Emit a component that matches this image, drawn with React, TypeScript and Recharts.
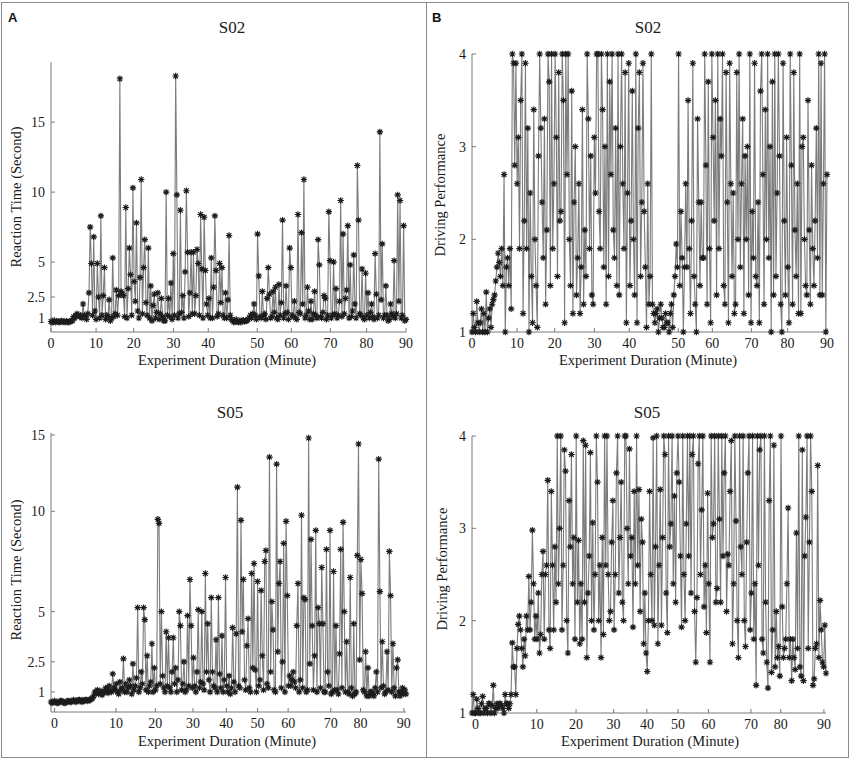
import React from 'react';
import { LineChart, Line, XAxis, YAxis } from 'recharts';

const SERIF = '"Liberation Serif", "Times New Roman", serif';

const MINUTE_LABELS = ['0', '10', '20', '30', '40', '50', '60', '70', '80', '90'];
// where each minute mark falls along the trial sequence (fraction of all trials)
const S02_MINUTE_AT = [0, 0.127, 0.233, 0.345, 0.443, 0.581, 0.677, 0.787, 0.889, 1.0];
const S05_MINUTE_AT = [0.01, 0.183, 0.294, 0.4, 0.494, 0.582, 0.668, 0.788, 0.872, 0.994];

const RT_TICKS_S02 = [1, 2.5, 5, 10, 15];
// in the source figure the "15" label of S05 sits lower than a linear axis would put it
const RT_TICKS_S05 = [1, 2.5, 5, 10, 13.8];
const RT_TICK_LABELS = ['1', '2.5', '5', '10', '15'];
const DP_TICKS = [1, 2, 3, 4];
const DP_TICK_LABELS = ['1', '2', '3', '4'];

// S02 reaction time per trial (s)
const S02_RT = [
  0.75, 0.7, 0.72, 0.8, 0.7, 0.78, 0.75, 0.7, 0.74, 0.8, 0.72, 0.76, 0.7, 0.78, 0.72,
  0.7, 0.75, 0.8, 0.8, 1.1, 1.0, 1.2, 1.3, 1.15, 1.1, 1.2, 1.0, 2.0, 1.2, 1.1,
  0.9, 1.3, 2.8, 7.5, 4.9, 1.2, 6.8, 1.5, 0.9, 4.9, 2.5, 1.0, 8.3, 1.2, 2.6,
  4.6, 0.9, 1.2, 1.1, 2.3, 0.8, 1.0, 5.3, 1.1, 1.3, 3.0, 1.2, 2.6, 18.1, 2.9,
  2.7, 2.6, 1.1, 8.9, 1.0, 3.1, 6.0, 4.1, 1.2, 10.3, 3.6, 2.2, 7.8, 1.5, 1.0,
  3.9, 10.9, 1.3, 4.6, 6.6, 2.1, 1.2, 6.0, 1.0, 3.3, 0.8, 1.9, 2.7, 1.0, 1.4,
  2.8, 0.9, 1.3, 2.4, 1.1, 0.8, 0.8, 10.0, 1.2, 2.4, 1.1, 3.5, 0.9, 5.6, 1.2,
  18.3, 9.8, 1.0, 1.3, 8.7, 1.4, 2.6, 1.0, 4.3, 10.1, 5.7, 1.1, 2.8, 5.7, 1.3,
  5.7, 1.3, 2.6, 5.9, 4.9, 1.2, 8.4, 4.5, 1.0, 8.2, 4.4, 2.0, 1.2, 2.4, 1.0,
  5.3, 1.0, 3.2, 8.3, 4.4, 1.1, 1.3, 4.9, 2.1, 4.6, 1.2, 1.0, 2.8, 1.0, 2.3,
  6.9, 1.2, 0.9, 0.8, 0.7, 0.75, 0.9, 0.75, 0.7, 0.8, 0.7, 0.8, 0.85, 0.75, 0.8,
  0.8, 0.9, 1.0, 1.2, 1.0, 1.3, 2.0, 1.2, 0.9, 7.0, 4.0, 1.1, 1.0, 2.9, 1.2,
  1.3, 0.9, 2.4, 4.6, 2.7, 1.0, 1.1, 2.9, 1.4, 3.2, 1.0, 0.9, 3.4, 1.2, 2.1,
  8.0, 1.0, 1.3, 3.3, 1.4, 0.9, 6.0, 4.6, 1.2, 1.1, 2.2, 1.0, 0.9, 8.4, 1.4,
  1.3, 7.1, 2.0, 10.9, 1.0, 1.2, 3.2, 1.5, 0.9, 2.2, 0.9, 1.3, 2.9, 1.2, 1.0,
  6.6, 4.8, 1.1, 1.0, 1.4, 2.6, 2.4, 0.9, 1.2, 8.6, 5.1, 1.0, 1.2, 5.0, 1.3,
  3.1, 1.0, 1.2, 2.2, 9.4, 1.1, 7.0, 1.3, 2.4, 3.0, 7.6, 1.0, 4.8, 1.1, 1.5,
  5.5, 2.0, 1.0, 11.9, 8.0, 1.3, 1.2, 4.5, 1.0, 0.9, 4.2, 1.2, 2.8, 1.0, 1.4,
  2.0, 1.1, 0.9, 5.6, 2.7, 1.0, 1.2, 14.3, 2.3, 6.3, 1.0, 1.2, 3.3, 1.2, 0.8,
  0.9, 2.0, 1.3, 1.1, 5.1, 1.0, 1.3, 9.8, 2.2, 9.4, 1.0, 1.2, 7.6, 0.8, 0.9,
];

// S02 driving performance per trial
const S02_DP = [
  1.0, 1.2, 1.05, 1.0, 1.33, 1.1, 1.0, 1.1, 1.25, 1.0, 1.2, 1.0, 1.43, 1.0, 1.15,
  1.25, 1.05, 1.3, 1.35, 1.4, 1.55, 1.7, 1.85, 1.75, 1.6, 1.9, 1.5, 2.7, 1.0, 1.7,
  1.8, 1.5, 1.9, 1.25, 4.0, 3.9, 2.8, 3.9, 2.6, 3.1, 1.9, 3.5, 4.0, 1.2, 2.2,
  3.9, 1.9, 3.2, 1.0, 2.5, 1.6, 1.1, 3.4, 2.0, 1.5, 1.05, 2.9, 4.0, 3.2, 2.4,
  1.8, 3.3, 1.3, 2.1, 4.0, 3.7, 1.5, 4.0, 1.9, 2.6, 4.0, 3.1, 1.6, 3.8, 2.2,
  2.3, 4.0, 3.5, 1.1, 4.0, 2.7, 4.0, 2.0, 1.5, 3.6, 1.2, 2.4, 3.0, 1.4, 1.8,
  2.6, 1.2, 1.7, 3.4, 1.3, 2.1, 1.6, 4.0, 3.3, 1.9, 2.9, 1.4, 1.3, 3.1, 2.5,
  4.0, 4.0, 2.3, 1.9, 4.0, 3.4, 1.7, 3.0, 1.3, 4.0, 1.6, 3.7, 2.7, 4.0, 2.1,
  1.8, 3.2, 1.5, 4.0, 1.4, 3.0, 4.0, 2.6, 1.9, 3.8, 1.1, 2.5, 3.9, 1.5, 2.2,
  3.6, 2.0, 1.4, 4.0, 1.1, 3.2, 3.8, 1.6, 2.4, 3.9, 2.3, 1.7, 1.05, 2.6, 1.3,
  1.6, 4.0, 1.3, 1.2, 1.1, 1.2, 1.25, 1.0, 1.15, 1.3, 1.15, 1.05, 1.05, 1.2, 1.1,
  1.1, 1.0, 1.2, 1.3, 1.05, 1.4, 1.6, 1.95, 1.7, 4.0, 1.5, 2.3, 1.8, 1.0, 1.7,
  2.6, 1.7, 3.5, 1.9, 1.2, 2.2, 3.9, 1.6, 1.3, 1.0, 3.3, 2.4, 1.5, 2.4, 1.8,
  1.8, 4.0, 2.8, 1.3, 3.7, 1.9, 1.1, 4.0, 3.1, 2.2, 3.5, 1.4, 4.0, 1.9, 3.3,
  2.9, 4.0, 1.5, 1.3, 3.8, 2.4, 1.1, 3.9, 2.6, 1.6, 2.5, 1.2, 1.3, 3.8, 2.0,
  4.0, 1.7, 2.6, 3.3, 1.2, 2.9, 2.0, 3.0, 1.4, 4.0, 1.1, 2.3, 1.8, 3.9, 1.6,
  1.5, 2.4, 1.1, 3.6, 4.0, 2.7, 1.3, 3.4, 2.0, 4.0, 1.8, 3.0, 1.0, 3.7, 1.4,
  4.0, 1.6, 2.5, 4.0, 2.9, 1.3, 1.0, 3.9, 2.2, 1.4, 3.1, 1.7, 1.1, 4.0, 2.8,
  1.3, 3.8, 2.1, 1.6, 2.6, 1.2, 4.0, 1.2, 3.0, 3.1, 2.0, 1.5, 1.4, 3.5, 2.1,
  1.3, 2.8, 1.9, 1.5, 2.2, 3.2, 1.8, 4.0, 1.4, 3.9, 1.4, 2.6, 4.0, 1.0, 2.7,
];

// S05 reaction time per trial (s)
const S05_RT = [
  0.5, 0.45, 0.5, 0.55, 0.5, 0.45, 0.45, 0.5, 0.55, 0.55, 0.5, 0.45, 0.45, 0.5, 0.55,
  0.55, 0.5, 0.5, 0.55, 0.6, 0.55, 0.5, 0.55, 0.6, 0.6, 0.55, 0.5, 0.6, 0.55, 0.6,
  0.6, 0.55, 0.6, 0.6, 0.65, 0.7, 0.8, 1.0, 0.95, 1.1, 0.9, 1.0, 1.05, 0.85, 0.95,
  1.0, 1.2, 1.1, 0.95, 1.3, 1.05, 1.0, 1.9, 1.2, 1.1, 1.4, 1.0, 0.9, 1.5, 1.1,
  1.2, 2.65, 1.0, 1.4, 1.0, 1.2, 1.6, 1.3, 0.9, 2.4, 1.1, 1.3, 1.7, 5.2, 1.0,
  1.2, 2.0, 1.4, 5.2, 4.6, 1.1, 2.8, 1.0, 1.3, 1.5, 3.4, 1.0, 2.2, 1.1, 1.3,
  9.6, 9.4, 1.4, 5.0, 1.8, 1.2, 1.0, 4.0, 1.3, 3.7, 1.2, 1.0, 2.0, 3.7, 1.4,
  2.2, 1.0, 1.6, 5.0, 4.3, 1.1, 1.4, 2.5, 1.0, 1.1, 4.8, 1.3, 6.6, 4.3, 1.2,
  2.7, 1.3, 1.0, 2.0, 5.1, 1.2, 1.5, 5.0, 1.4, 1.1, 6.9, 2.0, 4.4, 1.6, 1.0,
  5.7, 2.0, 1.3, 1.2, 3.6, 1.0, 5.7, 1.9, 1.2, 3.8, 1.0, 1.6, 6.7, 1.3, 1.0,
  1.8, 0.9, 1.2, 4.2, 1.5, 1.0, 3.9, 11.2, 1.3, 1.2, 9.55, 4.0, 6.6, 1.6, 1.1,
  3.3, 4.65, 1.2, 1.0, 6.9, 2.2, 7.4, 2.1, 1.0, 6.5, 1.3, 1.6, 6.05, 2.8, 1.1,
  7.5, 8.05, 1.4, 1.2, 12.7, 2.0, 5.5, 4.1, 1.1, 1.0, 12.35, 3.0, 6.4, 7.5, 1.2,
  2.5, 8.4, 1.0, 9.5, 5.8, 1.3, 1.8, 1.3, 1.6, 2.0, 1.5, 1.2, 4.3, 6.4, 1.0,
  1.6, 9.8, 1.2, 5.7, 5.6, 1.0, 1.1, 13.65, 2.4, 8.6, 4.3, 1.1, 2.8, 9.05, 1.0,
  5.2, 4.4, 1.2, 7.2, 4.4, 1.0, 1.0, 8.1, 2.0, 1.3, 9.05, 0.9, 1.0, 7.0, 1.1,
  4.3, 1.1, 0.9, 2.9, 8.1, 1.2, 9.45, 5.0, 1.0, 3.5, 1.0, 0.9, 6.7, 1.2, 0.8,
  4.4, 0.9, 1.0, 7.8, 13.35, 2.6, 7.6, 5.9, 1.1, 1.0, 3.0, 0.8, 2.2, 0.8, 1.0,
  1.0, 0.9, 0.8, 1.2, 2.0, 1.0, 12.6, 6.0, 1.2, 3.5, 1.3, 0.9, 1.0, 3.0, 1.1,
  8.0, 5.8, 1.0, 3.4, 1.2, 0.8, 2.2, 2.6, 1.0, 0.8, 1.0, 1.2, 0.9, 1.1, 0.9,
];

// S05 driving performance per trial
const S05_DP = [
  1.0, 1.2, 1.0, 1.0, 1.15, 1.05, 1.0, 1.0, 1.1, 1.18, 1.0, 1.05, 1.05, 1.0, 1.1,
  1.1, 1.0, 1.08, 1.3, 1.0, 1.05, 1.1, 1.05, 1.1, 1.1, 1.08, 1.05, 1.0, 1.2, 1.1,
  1.1, 1.05, 1.1, 1.2, 1.76, 1.5, 1.5, 1.2, 1.7, 1.96, 2.05, 1.9, 1.7, 1.5, 1.8,
  1.62, 2.05, 1.9, 2.48, 1.9, 2.2, 2.98, 2.4, 1.8, 2.05, 1.8, 2.3, 1.65, 1.85, 2.5,
  2.75, 1.8, 2.5, 2.6, 3.52, 1.9, 1.7, 3.4, 2.6, 1.9, 2.8, 2.2, 4.0, 2.4, 3.0,
  4.0, 1.9, 2.6, 3.85, 3.62, 2.0, 1.65, 3.3, 2.8, 3.8, 2.4, 2.9, 1.8, 4.0, 2.2,
  2.87, 1.75, 2.4, 1.8, 3.95, 2.2, 3.9, 1.6, 2.3, 2.7, 3.82, 2.0, 3.06, 1.9, 2.5,
  4.0, 3.5, 2.0, 2.6, 1.6, 2.9, 1.85, 4.0, 2.6, 4.0, 2.5, 2.0, 2.1, 2.85, 3.3,
  1.9, 2.5, 3.6, 4.0, 2.3, 2.9, 3.5, 2.2, 2.0, 4.0, 4.0, 3.0, 2.4, 3.86, 2.7,
  2.9, 1.93, 3.4, 2.4, 4.0, 2.6, 3.42, 2.1, 3.1, 2.85, 1.75, 2.3, 1.65, 1.45, 2.0,
  3.4, 2.5, 2.0, 3.98, 1.95, 2.8, 4.0, 1.75, 2.6, 3.42, 1.95, 2.9, 4.0, 3.8, 2.3,
  1.87, 4.0, 2.8, 3.05, 4.0, 2.4, 3.35, 2.2, 3.6, 4.0, 3.5, 2.7, 1.93, 4.0, 2.5,
  2.0, 3.05, 4.0, 2.7, 4.0, 2.3, 3.8, 4.0, 2.1, 1.55, 2.25, 3.7, 4.0, 2.5, 3.2,
  4.0, 2.15, 2.6, 1.87, 3.38, 2.4, 1.55, 4.0, 2.9, 3.05, 4.0, 2.2, 2.35, 4.0, 3.1,
  2.2, 4.0, 2.7, 3.6, 4.0, 2.1, 2.72, 2.6, 3.4, 3.95, 1.75, 2.4, 4.0, 3.08, 2.0,
  1.6, 4.0, 2.8, 2.5, 4.0, 2.0, 1.72, 2.85, 3.6, 4.0, 1.9, 2.3, 4.0, 1.8, 2.4,
  1.3, 4.0, 2.6, 3.85, 4.0, 1.8, 1.65, 4.0, 2.2, 1.55, 1.27, 3.3, 4.0, 1.44, 1.9,
  3.9, 1.5, 2.1, 1.6, 1.72, 1.4, 4.0, 2.15, 1.6, 1.7, 1.8, 2.4, 3.22, 1.6, 1.8,
  1.35, 1.8, 1.6, 1.47, 2.95, 1.7, 4.0, 1.5, 1.4, 3.85, 1.35, 2.7, 3.12, 4.0, 1.7,
  2.85, 4.0, 3.4, 1.3, 1.37, 1.7, 1.75, 3.68, 1.6, 2.22, 1.9, 1.55, 1.5, 1.95, 1.43,
];

const Asterisk = (props: any) => {
  const { cx, cy, index } = props;
  if (cx == null || cy == null) return <g key={`s-${index}`} />;
  const r = 3.2;
  const d = 2.3;
  return (
    <path
      key={`s-${index}`}
      d={`M${cx - r},${cy}H${cx + r}M${cx},${cy - r}V${cy + r}M${cx - d},${cy - d}L${cx + d},${cy + d}M${cx - d},${cy + d}L${cx + d},${cy - d}`}
      stroke="#1c1c1c"
      strokeWidth={1.15}
      fill="none"
    />
  );
};

interface PanelProps {
  left: number;
  top: number;
  values: number[];
  minuteAt: number[];
  yDomain: [number, number];
  yTicks: number[];
  yTickLabels: string[];
  plotLeft: number;
  plotRight: number;
  plotTop: number;
  plotBottom: number;
}

const PANEL_W = 425;
const PANEL_H = 380;

const tickStyle = { fill: '#1a1a1a', fontSize: 14, fontFamily: SERIF };

const Panel = ({ left, top, values, minuteAt, yDomain, yTicks, yTickLabels, plotLeft, plotRight, plotTop, plotBottom }: PanelProps) => {
  const rows = values.map((v, i) => ({ trial: i, v }));
  const last = values.length - 1;
  const xTicks = minuteAt.map((f) => f * last);

  return (
    <div style={{ position: 'absolute', left, top }}>
      <LineChart
        width={PANEL_W}
        height={PANEL_H}
        data={rows}
        margin={{ top: plotTop, right: PANEL_W - plotRight, bottom: 0, left: 0 }}
      >
        <XAxis
          dataKey="trial"
          type="number"
          domain={[0, last]}
          ticks={xTicks}
          interval={0}
          tickFormatter={(v: number) => MINUTE_LABELS[xTicks.indexOf(v)]}
          height={PANEL_H - plotBottom}
          tickSize={-4}
          tickMargin={10}
          stroke="#7a7a7a"
          tick={tickStyle}
        />
        <YAxis
          type="number"
          domain={yDomain}
          ticks={yTicks}
          interval={0}
          tickFormatter={(v: number) => yTickLabels[yTicks.indexOf(v)]}
          width={plotLeft}
          tickSize={-4}
          tickMargin={10}
          stroke="#7a7a7a"
          tick={tickStyle}
        />
        <Line dataKey="v" stroke="#7c7c7c" strokeWidth={1.1} dot={Asterisk} isAnimationActive={false} />
      </LineChart>
    </div>
  );
};

const YTitle = ({ x, y, text }: { x: number; y: number; text: string }) => (
  <text
    x={x}
    y={y}
    transform={`rotate(-90 ${x} ${y})`}
    textAnchor="middle"
    dominantBaseline="central"
    fontFamily={SERIF}
    fontSize={14.5}
    fill="#1a1a1a"
  >
    {text}
  </text>
);

const App = () => {
  return (
    <div style={{ position: 'absolute', left: 0, top: 0, width: 851, height: 764, background: '#fff' }}>
      <Panel left={0} top={0} values={S02_RT} minuteAt={S02_MINUTE_AT} yDomain={[0, 19.3]} yTicks={RT_TICKS_S02} yTickLabels={RT_TICK_LABELS} plotLeft={51} plotRight={406} plotTop={62} plotBottom={332} />
      <Panel left={425} top={0} values={S02_DP} minuteAt={S02_MINUTE_AT} yDomain={[1, 4]} yTicks={DP_TICKS} yTickLabels={DP_TICK_LABELS} plotLeft={47} plotRight={402} plotTop={54} plotBottom={332} />
      <Panel left={0} top={380} values={S05_RT} minuteAt={S05_MINUTE_AT} yDomain={[0, 13.9]} yTicks={RT_TICKS_S05} yTickLabels={RT_TICK_LABELS} plotLeft={51} plotRight={406} plotTop={53} plotBottom={332} />
      <Panel left={425} top={380} values={S05_DP} minuteAt={S05_MINUTE_AT} yDomain={[1, 4]} yTicks={DP_TICKS} yTickLabels={DP_TICK_LABELS} plotLeft={47} plotRight={401} plotTop={56} plotBottom={333} />

      <svg width={851} height={764} style={{ position: 'absolute', left: 0, top: 0, pointerEvents: 'none' }}>
        <rect x={1.5} y={2.5} width={847} height={755} fill="none" stroke="#8a8a8a" strokeWidth={1} />
        <line x1={426.5} y1={2.5} x2={426.5} y2={757.5} stroke="#8a8a8a" strokeWidth={1} />

        <text x={8} y={22} fontFamily='"Liberation Sans", Arial, sans-serif' fontWeight="bold" fontSize={13} fill="#111">A</text>
        <text x={432} y={22} fontFamily='"Liberation Sans", Arial, sans-serif' fontWeight="bold" fontSize={13} fill="#111">B</text>

        <g fontFamily={SERIF} fontSize={17} fill="#1a1a1a" textAnchor="middle">
          <text x={232} y={33}>S02</text>
          <text x={648} y={33}>S02</text>
          <text x={230} y={418}>S05</text>
          <text x={647} y={418}>S05</text>
        </g>

        <g fontFamily={SERIF} fontSize={14.5} fill="#1a1a1a" textAnchor="middle">
          <text x={227} y={365}>Experiment Duration (Minute)</text>
          <text x={648} y={365}>Experiment Duration (Minute)</text>
          <text x={227} y={745.5}>Experiment Duration (Minute)</text>
          <text x={650} y={745.5}>Experiment Duration (Minute)</text>
        </g>

        <YTitle x={16} y={197} text="Reaction Time (Second)" />
        <YTitle x={440} y={195} text="Driving Performance" />
        <YTitle x={16} y={570} text="Reaction Time (Second)" />
        <YTitle x={442} y={569} text="Driving Performance" />
      </svg>
    </div>
  );
};

export default App;
